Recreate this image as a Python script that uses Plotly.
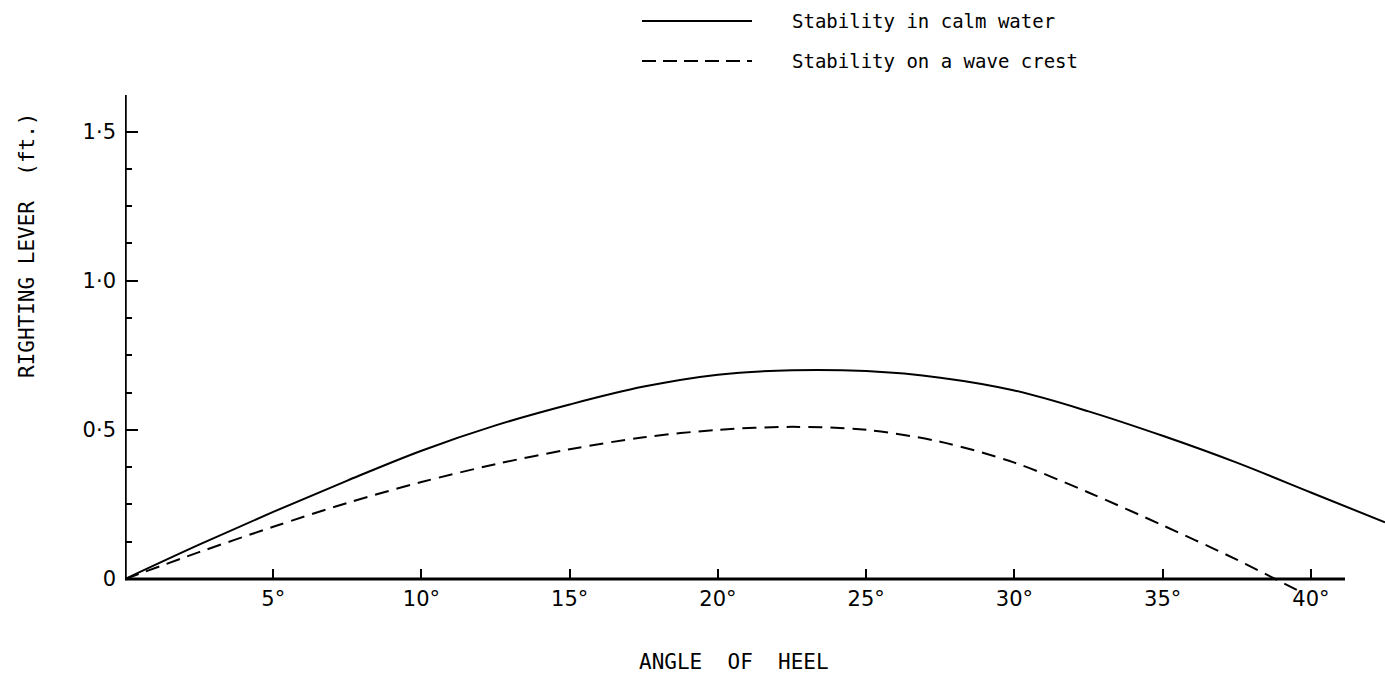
import plotly.graph_objects as go

# ---------------- data ----------------
angle_calm = [0, 2.5, 5, 7.5, 10, 12.5, 15, 17.5, 20, 22.5, 25, 27.5, 30, 32.5, 35, 37.5, 40, 42.5]
lever_calm = [0, 0.115, 0.225, 0.33, 0.43, 0.515, 0.585, 0.645, 0.685, 0.70, 0.697, 0.675, 0.632, 0.562,
              0.48, 0.39, 0.29, 0.19]

angle_crest = [0, 2.5, 5, 7.5, 10, 12.5, 15, 17.5, 20, 22.5, 25, 27.5, 30, 32.5, 35, 37.5, 38.8, 39.7]
lever_crest = [0, 0.09, 0.175, 0.255, 0.325, 0.385, 0.435, 0.475, 0.50, 0.51, 0.50, 0.46, 0.39, 0.29,
               0.18, 0.065, 0.0, -0.045]

x_tick_vals = [5, 10, 15, 20, 25, 30, 35, 40]
x_tick_text = ["5°", "10°", "15°", "20°", "25°", "30°", "35°", "40°"]
y_tick_vals = [0, 0.5, 1.0, 1.5]
y_tick_text = ["0", "0·5", "1·0", "1·5"]

series_names = ["Stability in calm water", "Stability on a wave crest"]

# ---------------- layout geometry ----------------
W, H = 1385, 680
ML, MR, MT, MB = 125, 0, 95, 80
X_RANGE = [0, 42.5]
Y_RANGE = [-0.0704, 1.6225]
PW, PH = W - ML - MR, H - MT - MB


def px_x(px):
    return (px - ML) / PW


def px_y(py):
    return (H - MB - py) / PH


zero_pos = (0 - Y_RANGE[0]) / (Y_RANGE[1] - Y_RANGE[0])

FONT_TICK = "DejaVu Sans"
FONT_TXT = "DejaVu Sans Mono"

fig = go.Figure()
fig.add_trace(go.Scatter(x=angle_calm, y=lever_calm, mode="lines", name=series_names[0],
                         line=dict(color="black", width=2, shape="spline", smoothing=1.0),
                         showlegend=False))
fig.add_trace(go.Scatter(x=angle_crest, y=lever_crest, mode="lines", name=series_names[1],
                         line=dict(color="black", width=2, dash="14px,8px", shape="spline", smoothing=0.9),
                         showlegend=False))

# axis lines
fig.add_shape(type="line", xref="x", yref="y", x0=0, x1=0, y0=-0.004, y1=Y_RANGE[1],
              line=dict(color="black", width=3.5))
fig.add_shape(type="line", xref="x", yref="y", x0=0, x1=41.15, y0=0, y1=0,
              line=dict(color="black", width=3))

# legend (manual)
fig.add_shape(type="line", xref="paper", yref="paper", x0=px_x(642), x1=px_x(752), y0=px_y(21), y1=px_y(21),
              line=dict(color="black", width=2))
fig.add_shape(type="line", xref="paper", yref="paper", x0=px_x(642), x1=px_x(752), y0=px_y(61), y1=px_y(61),
              line=dict(color="black", width=2, dash="14px,7px"))
for name, py in zip(series_names, [21, 61]):
    fig.add_annotation(text=name, xref="paper", yref="paper", x=px_x(790), y=px_y(py),
                       xanchor="left", yanchor="middle", showarrow=False,
                       font=dict(family=FONT_TXT, size=19, color="black"))

# axis titles
fig.add_annotation(text="ANGLE  OF  HEEL", xref="paper", yref="paper", x=px_x(734), y=px_y(662),
                   xanchor="center", yanchor="middle", showarrow=False,
                   font=dict(family=FONT_TXT, size=21, color="black"))
fig.add_annotation(text="RIGHTING LEVER  (ft.)", xref="paper", yref="paper", x=px_x(27), y=px_y(245),
                   xanchor="center", yanchor="middle", showarrow=False, textangle=-90,
                   font=dict(family=FONT_TXT, size=21, color="black"))

fig.update_layout(
    width=W, height=H,
    margin=dict(l=ML, r=MR, t=MT, b=MB),
    paper_bgcolor="white", plot_bgcolor="white",
    xaxis=dict(range=X_RANGE, anchor="free", position=zero_pos, side="bottom",
               tickvals=x_tick_vals, ticktext=x_tick_text,
               ticks="inside", ticklen=10, tickwidth=2, tickcolor="black",
               ticklabelstandoff=5,
               showgrid=False, zeroline=False, showline=False,
               tickfont=dict(family=FONT_TICK, size=21, color="black")),
    yaxis=dict(range=Y_RANGE, tickvals=y_tick_vals, ticktext=y_tick_text,
               ticks="inside", ticklen=13, tickwidth=2, tickcolor="black",
               minor=dict(dtick=0.125, tick0=0, ticks="inside", ticklen=7, tickwidth=2,
                          tickcolor="black", showgrid=False),
               ticklabelstandoff=8,
               showgrid=False, zeroline=False, showline=False,
               tickfont=dict(family=FONT_TICK, size=21, color="black")),
)

fig.write_html("out.html")
